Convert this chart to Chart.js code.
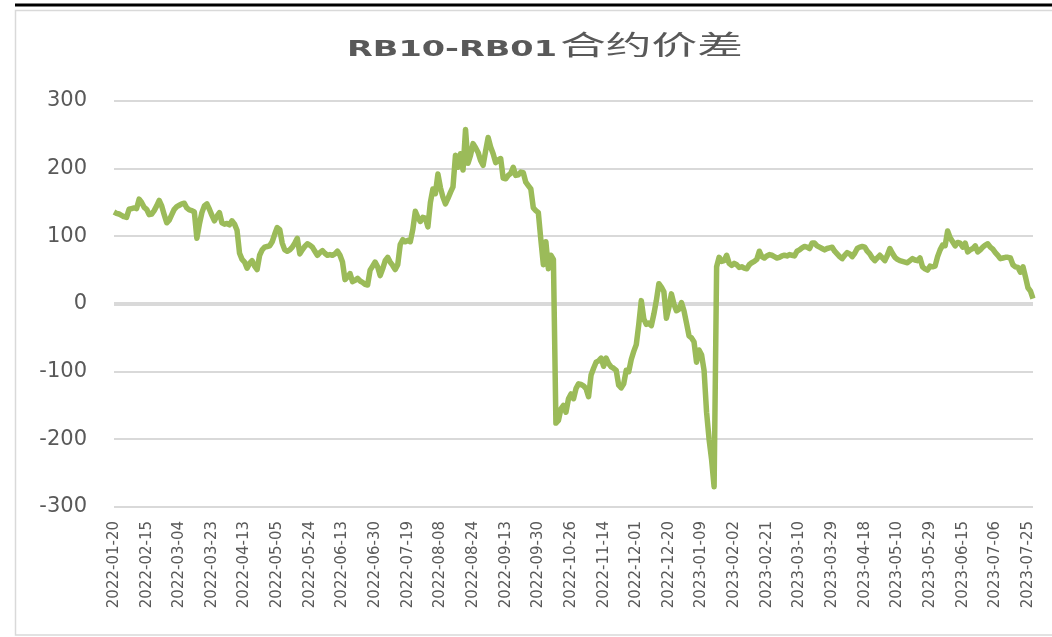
<!DOCTYPE html>
<html>
<head>
<meta charset="utf-8">
<script src="https://cdn.jsdelivr.net/npm/chart.js@4.4.0/dist/chart.umd.min.js"></script>
<style>
html, body { margin: 0; padding: 0; background: #fff; }
canvas { display: block; }
</style>
</head>
<body>
<canvas id="spread" width="1052" height="637" style="width:1052px;height:637px"></canvas>
<script>
var titleLatin = 'RB10-RB01';
var titleCjk = '合约价差';

// one label every 13 trading days
var tickLabels = [
	'2022-01-20', '2022-02-15', '2022-03-04', '2022-03-23', '2022-04-13', '2022-05-05',
	'2022-05-24', '2022-06-13', '2022-06-30', '2022-07-19', '2022-08-08', '2022-08-24',
	'2022-09-13', '2022-09-30', '2022-10-26', '2022-11-14', '2022-12-01', '2022-12-20',
	'2023-01-09', '2023-02-02', '2023-02-21', '2023-03-10', '2023-03-29', '2023-04-18',
	'2023-05-10', '2023-05-29', '2023-06-15', '2023-07-06', '2023-07-25'
];

// daily spread, one row per label interval
var spread2022 = [
	136, 134, 133, 131, 129, 128, 140, 141, 142, 141, 155, 150, 143,
	140, 132, 133, 138, 145, 153, 145, 132, 120, 124, 132, 140, 144,
	146, 148, 149, 142, 139, 138, 136, 97, 118, 135, 145, 148, 140,
	131, 123, 130, 135, 120, 118, 119, 117, 123, 118, 109, 75, 66,
	62, 53, 60, 64, 56, 51, 72, 80, 84, 85, 86, 92, 103,
	113, 110, 90, 80, 78, 80, 84, 90, 97, 74, 80, 85, 89,
	87, 84, 78, 72, 76, 79, 75, 72, 73, 72, 74, 78, 72,
	62, 36, 40, 45, 33, 35, 38, 34, 32, 29, 28, 50, 56,
	62, 55, 42, 52, 64, 69, 62, 57, 51, 58, 88, 95, 92,
	94, 92, 110, 137, 128, 122, 128, 127, 114, 150, 170, 163, 192,
	172, 158, 148, 156, 165, 173, 220, 202, 222, 198, 258, 208, 220,
	237, 231, 224, 212, 205, 226, 246, 232, 222, 209, 213, 215, 186,
	185, 190, 193, 202, 190, 191, 195, 194, 180, 175, 170, 142, 138,
	135, 95, 58, 92, 52, 72, 66, -176, -172, -155, -150, -160, -140,
	-133, -140, -125, -118, -119, -121, -125, -137, -105, -95, -86, -84, -80,
	-92, -80, -88, -93, -95, -98, -120, -124, -118, -98, -100, -82, -70,
	-60, -30, 5, -22, -30, -28, -32, -15, 5, 30, 25, 18, -21,
	-5, 15, 0, -10, -8, 2, -10, -28, -47
];
var spread2023 = [
	-50, -56, -86, -68,
	-75, -98, -160, -200, -230, -270, 55, 69, 63, 64, 72, 60, 57,
	60, 58, 54, 55, 53, 52, 58, 61, 63, 66, 78, 70, 68,
	71, 73, 72, 70, 68, 69, 71, 72, 71, 73, 72, 71, 78,
	80, 83, 85, 84, 82, 90, 90, 86, 84, 82, 80, 82, 83,
	84, 78, 74, 70, 67, 72, 76, 74, 70, 75, 82, 84, 85,
	84, 78, 74, 68, 64, 68, 72, 68, 64, 72, 82, 75, 69,
	66, 64, 63, 62, 61, 64, 67, 65, 64, 68, 55, 52, 50,
	56, 55, 56, 70, 80, 87, 86, 108, 98, 92, 86, 91, 90,
	84, 90, 77, 80, 82, 86, 77, 80, 84, 87, 89, 84, 81,
	76, 72, 67, 68, 69, 69, 68, 58, 55, 54, 47, 55, 40,
	24, 19, 8
];

var spread = spread2022.concat(spread2023);
var categories = [];
for (var i = 0; i < spread.length; i++) {
	categories.push(i % 13 === 0 ? tickLabels[i / 13] : '');
}

// frame lines and the wide title
var frame = {
	id: 'frame',
	beforeDraw: function(chart) {
		var ctx = chart.ctx;
		ctx.save();
		ctx.fillStyle = '#fff';
		ctx.fillRect(0, 0, chart.width, chart.height);
		ctx.strokeStyle = '#d9d9d9';
		ctx.lineWidth = 1.5;
		ctx.beginPath();
		ctx.moveTo(1052, 10.5);
		ctx.lineTo(15.5, 10.5);
		ctx.lineTo(15.5, 635);
		ctx.lineTo(1052, 635);
		ctx.stroke();
		ctx.strokeStyle = '#000';
		ctx.lineWidth = 3;
		ctx.beginPath();
		ctx.moveTo(15, 5);
		ctx.lineTo(1052, 5);
		ctx.stroke();

		ctx.fillStyle = '#595959';
		ctx.textAlign = 'left';
		ctx.textBaseline = 'alphabetic';
		ctx.font = 'bold 22px "DejaVu Sans"';
		var w1 = ctx.measureText(titleLatin).width;
		ctx.save();
		ctx.translate(347, 56);
		ctx.scale(210 / w1, 1);
		ctx.fillText(titleLatin, 0, 0);
		ctx.restore();
		ctx.font = '27px "Noto Sans CJK SC"';
		var w2 = ctx.measureText(titleCjk).width;
		ctx.save();
		ctx.translate(560, 55);
		ctx.scale(183 / w2, 1);
		ctx.fillText(titleCjk, 0, 0);
		ctx.restore();
		ctx.restore();
	}
};

var linechart = {
	type: 'line',
	data: {
		labels: categories,
		datasets: [
			{
				label: titleLatin + titleCjk,
				data: spread,
				borderColor: '#9bbb59',
				borderWidth: 5.5,
				borderJoinStyle: 'round',
				pointRadius: 0,
				tension: 0,
				fill: false
			}
		]
	},
	options: {
		responsive: false,
		animation: false,
		devicePixelRatio: 1,
		layout: {
			padding: { top: 101, right: 19, left: 0, bottom: 0 }
		},
		plugins: {
			legend: { display: false },
			title: { display: false },
			tooltip: { enabled: false }
		},
		scales: {
			x: {
				grid: { display: false, drawTicks: false },
				border: { display: false },
				ticks: {
					autoSkip: false,
					minRotation: 90,
					maxRotation: 90,
					padding: 14,
					color: '#595959',
					font: { family: 'DejaVu Sans', size: 15 }
				},
				afterFit: function(scale) {
					scale.height = 130;
					scale.paddingLeft = 0;
					scale.paddingRight = 0;
				}
			},
			y: {
				min: -300,
				max: 300,
				grid: {
					drawTicks: false,
					color: '#d9d9d9',
					lineWidth: function(c) { return c.tick && c.tick.value === 0 ? 4 : 2; }
				},
				border: { display: false },
				ticks: {
					stepSize: 100,
					padding: 27,
					color: '#595959',
					font: { family: 'DejaVu Sans', size: 21 }
				},
				afterFit: function(scale) { scale.width = 114; }
			}
		}
	},
	plugins: [frame]
};

window.onload = function() {
	var ctx = document.getElementById('spread').getContext('2d');
	window.myLine = new Chart(ctx, linechart);
};
</script>
</body>
</html>
